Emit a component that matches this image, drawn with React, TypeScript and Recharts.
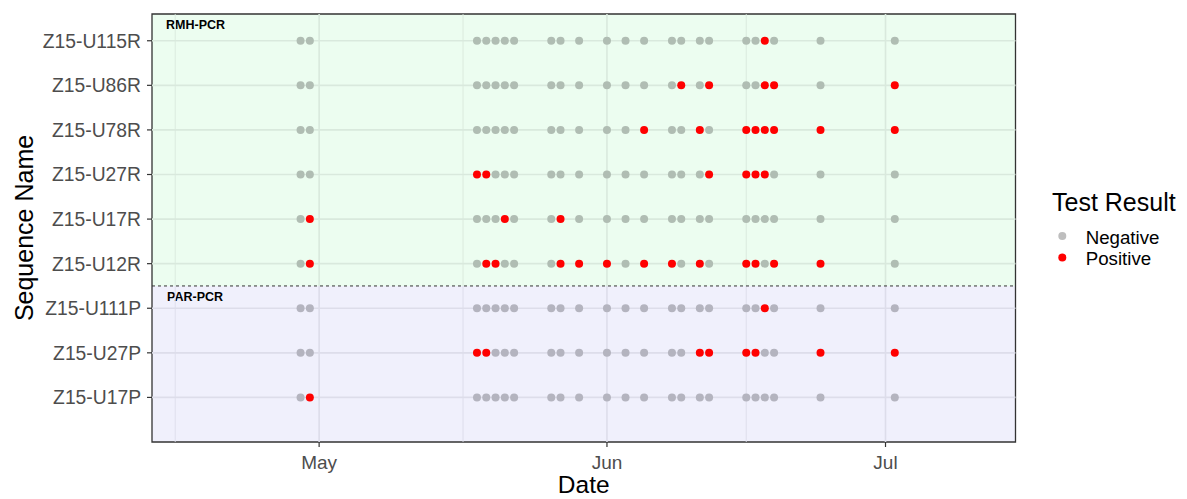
import { ReferenceArea, ReferenceLine, Scatter, ScatterChart, XAxis, YAxis } from "recharts";

const YEAR = 2015;

// rows, top to bottom
const sequenceNames = [
  "Z15-U115R",
  "Z15-U86R",
  "Z15-U78R",
  "Z15-U27R",
  "Z15-U17R",
  "Z15-U12R",
  "Z15-U111P",
  "Z15-U27P",
  "Z15-U17P",
];

const testDates = [
  "04-29", "04-30",
  "05-18", "05-19", "05-20", "05-21", "05-22",
  "05-26", "05-27", "05-29",
  "06-01", "06-03", "06-05", "06-08", "06-09", "06-11", "06-12",
  "06-16", "06-17", "06-18", "06-19", "06-24",
  "07-02",
];

// positive results per sequence
const posU115R = ["06-18"];
const posU86R = ["06-09", "06-12", "06-18", "06-19", "07-02"];
const posU78R = ["06-05", "06-11", "06-16", "06-17", "06-18", "06-19", "06-24", "07-02"];
const posU27R = ["05-18", "05-19", "06-12", "06-16", "06-17", "06-18"];
const posU17R = ["04-30", "05-21", "05-27"];
const posU12R = ["04-30", "05-19", "05-20", "05-27", "05-29", "06-01", "06-05", "06-08", "06-11", "06-16", "06-17", "06-19", "06-24"];
const posU111P = ["06-18"];
const posU27P = ["05-18", "05-19", "06-11", "06-12", "06-16", "06-17", "06-24", "07-02"];
const posU17P = ["04-30"];
const positives = [posU115R, posU86R, posU78R, posU27R, posU17R, posU12R, posU111P, posU27P, posU17P];

const panelLabels = ["RMH-PCR", "PAR-PCR"];
const majorTicks = ["05-01", "06-01", "07-01"];
const minorTicks = ["04-15T12:00", "05-16T12:00", "06-16T00:00"];
const xLimits = ["04-13", "07-15"];
const monthNames = ["Jan", "Feb", "Mar", "Apr", "May", "Jun", "Jul", "Aug", "Sep", "Oct", "Nov", "Dec"];

const FONT = '"Liberation Sans", Arial, sans-serif';
const GREEN_BG = "#ECFDF0";
const PURPLE_BG = "#F0F0FC";
const GREEN_GRID = "#D9E9DD";
const PURPLE_GRID = "#DDDDEA";
const GREEN_NEG = "#B0BDB3";
const PURPLE_NEG = "#B4B4BF";
const POS = "#FF0000";

const toTime = (md: string) => Date.parse(`${YEAR}-${md.includes("T") ? md : md + "T00:00"}:00Z`);

const nRows = sequenceNames.length;
const nPar = sequenceNames.filter((s) => s.endsWith("P")).length;
const split = nPar + 0.5;
const yMax = nRows + 0.6;
const xMin = toTime(xLimits[0]);
const xMax = toTime(xLimits[1]);

interface Pt {
  x: number;
  y: number;
  rmh: boolean;
  positive: boolean;
}

const points: Pt[] = sequenceNames.flatMap((name, i) =>
  testDates.map((d) => ({
    x: toTime(d),
    y: nRows - i,
    rmh: name.endsWith("R"),
    positive: positives[i].includes(d),
  }))
);
const negatives = points.filter((p) => !p.positive);
const positivePts = points.filter((p) => p.positive);

const rowTicks = sequenceNames.map((_, i) => nRows - i);

function Dot(props: any) {
  const { cx, cy, payload } = props;
  if (cx == null || cy == null) return null;
  const fill = payload.positive ? POS : payload.rmh ? GREEN_NEG : PURPLE_NEG;
  return <circle cx={cx} cy={cy} r={4} fill={fill} />;
}

export default function App() {
  const vLines = [
    ...majorTicks.map((t) => ({ x: toTime(t), w: 1.6 })),
    ...minorTicks.map((t) => ({ x: toTime(t), w: 0.9 })),
  ];

  return (
    <div style={{ position: "relative", width: 1187, height: 499 }}>
      <style>{`body{margin:0}`}</style>
      <ScatterChart width={1187} height={499} margin={{ top: 14, right: 171.5, bottom: 0, left: 0 }}>
        <XAxis
          type="number"
          dataKey="x"
          domain={[xMin, xMax]}
          allowDataOverflow
          ticks={majorTicks.map(toTime)}
          tickFormatter={(t: number) => monthNames[new Date(t).getUTCMonth()]}
          height={57}
          axisLine={false}
          tickSize={5}
          tickMargin={9}
          tickLine={{ stroke: "#333333", strokeWidth: 1.2 }}
          tick={{ fontSize: 19, fill: "#4D4D4D", fontFamily: FONT }}
          label={{
            content: () => (
              <text x={583.7} y={493} textAnchor="middle" fontSize={24.5} fontFamily={FONT} fill="#000">
                Date
              </text>
            ),
          }}
        />
        <YAxis
          type="number"
          dataKey="y"
          domain={[0, yMax]}
          allowDataOverflow
          ticks={rowTicks}
          tickFormatter={(v: number) => sequenceNames[nRows - v] ?? ""}
          width={152}
          axisLine={false}
          tickSize={5}
          tickMargin={6}
          tickLine={{ stroke: "#333333", strokeWidth: 1.2 }}
          tick={{ fontSize: 19.3, fill: "#4D4D4D", fontFamily: FONT }}
          label={{
            content: () => (
              <text
                x={33}
                y={228}
                transform="rotate(-90 33 228)"
                textAnchor="middle"
                fontSize={25}
                fontFamily={FONT}
                fill="#000"
              >
                Sequence Name
              </text>
            ),
          }}
        />

        <ReferenceArea
          x1={xMin}
          x2={xMax}
          y1={split}
          y2={yMax}
          fill={GREEN_BG}
          fillOpacity={1}
          stroke="none"
          label={{
            content: () => (
              <text x={166} y={29.3} fontSize={12.5} fontWeight="bold" fontFamily={FONT} fill="#000">
                {panelLabels[0]}
              </text>
            ),
          }}
        />
        <ReferenceArea
          x1={xMin}
          x2={xMax}
          y1={0}
          y2={split}
          fill={PURPLE_BG}
          fillOpacity={1}
          stroke="none"
          label={{
            content: () => (
              <text x={167} y={300.7} fontSize={12.5} fontWeight="bold" fontFamily={FONT} fill="#000">
                {panelLabels[1]}
              </text>
            ),
          }}
        />

        {vLines.map((l, i) => (
          <ReferenceLine
            key={`vg${i}`}
            segment={[{ x: l.x, y: split }, { x: l.x, y: yMax }]}
            stroke={GREEN_GRID}
            strokeWidth={l.w}
          />
        ))}
        {vLines.map((l, i) => (
          <ReferenceLine
            key={`vp${i}`}
            segment={[{ x: l.x, y: 0 }, { x: l.x, y: split }]}
            stroke={PURPLE_GRID}
            strokeWidth={l.w}
          />
        ))}
        {rowTicks.map((r) => (
          <ReferenceLine key={`h${r}`} y={r} stroke={r > split ? GREEN_GRID : PURPLE_GRID} strokeWidth={1.6} />
        ))}
        <ReferenceLine y={split} stroke="#333333" strokeWidth={1} strokeDasharray="3 3" />
        <ReferenceArea x1={xMin} x2={xMax} y1={0} y2={yMax} fill="none" stroke="#333333" strokeWidth={1.3} />

        <Scatter name="Negative" data={negatives} isAnimationActive={false} shape={Dot} />
        <Scatter name="Positive" data={positivePts} isAnimationActive={false} shape={Dot} />
      </ScatterChart>

      <svg
        width={140}
        height={90}
        style={{ position: "absolute", left: 1047, top: 186, fontFamily: FONT, overflow: "visible" }}
      >
        <text x={5} y={24.7} fontSize={25} fill="#000">
          Test Result
        </text>
        <circle cx={15.3} cy={50} r={4} fill="#BEBEBE" />
        <text x={38.7} y={57.5} fontSize={18.7} fill="#000">
          Negative
        </text>
        <circle cx={15.3} cy={71.5} r={4} fill={POS} />
        <text x={38.7} y={78.8} fontSize={18.7} fill="#000">
          Positive
        </text>
      </svg>
    </div>
  );
}
